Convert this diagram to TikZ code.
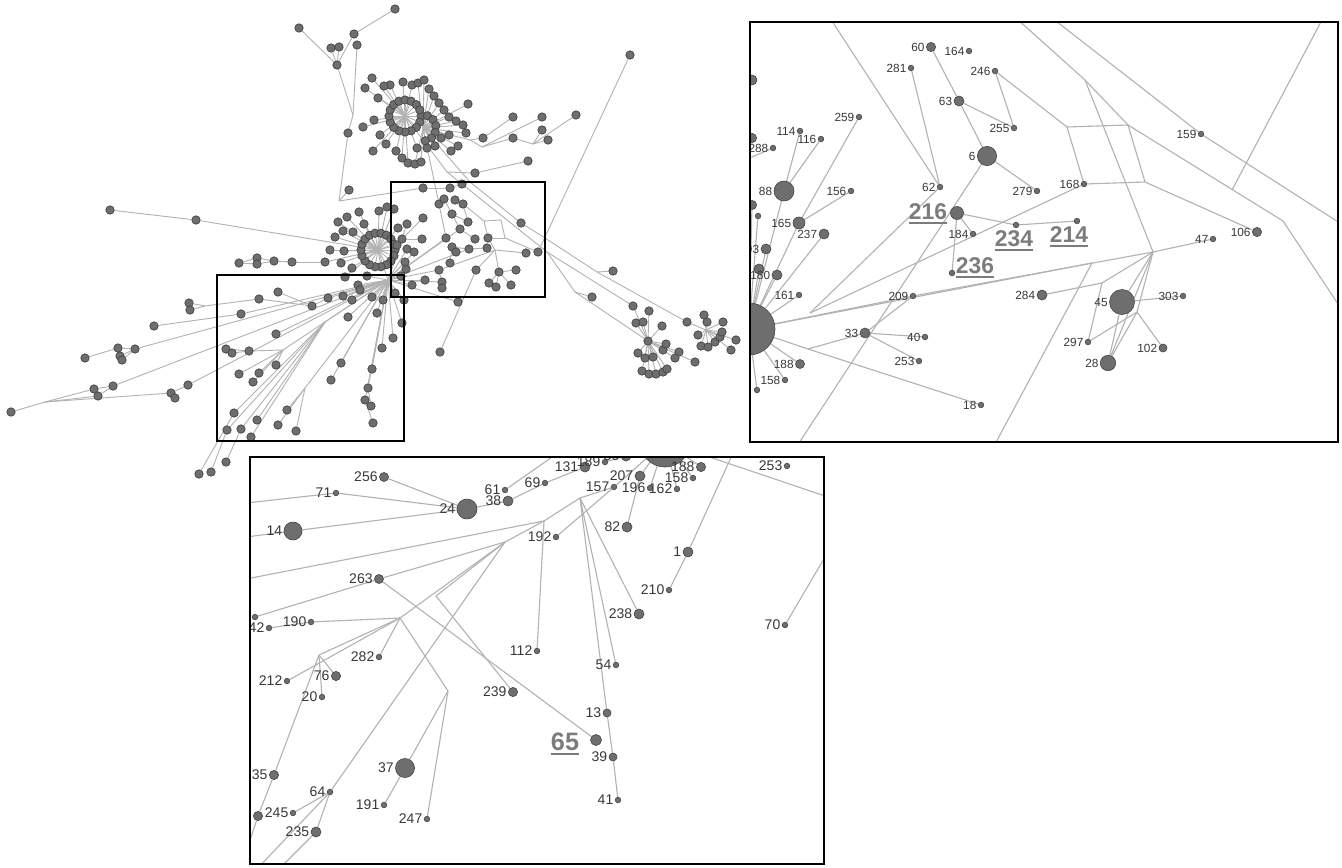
\documentclass[tikz,border=0pt]{standalone}
\usepackage{fontspec}
\setmainfont{Liberation Sans}
\usetikzlibrary{calc}
\pgfdeclarelayer{back}
\pgfdeclarelayer{bg}
\pgfsetlayers{back,bg,main}
\definecolor{nodefill}{HTML}{6E6E6E}
\definecolor{nodeline}{HTML}{444444}
\definecolor{edgegray}{HTML}{B2B2B2}
\definecolor{labgray}{HTML}{383838}
\definecolor{biggray}{HTML}{7C7C7C}
\begin{document}
\begin{tikzpicture}[x=0.5pt,y=-0.5pt,
  onode/.style={circle,fill=nodefill,draw=nodeline,line width=0.35pt,inner sep=0pt,minimum size=4.2pt},
  oedge/.style={draw=edgegray,line width=0.45pt},
  iedge/.style={draw=edgegray,line width=0.55pt},
  vx/.style={circle,fill=nodefill,draw=nodeline,line width=0.3pt,inner sep=0pt,minimum size=#1},
  vx/.default=2.8pt,
  every label/.style={font=\fontsize{5.9}{6}\selectfont,text=labgray,inner sep=0.3pt},
  label distance=0.3pt,
  bignum/.style={font=\bfseries\fontsize{11.4}{12}\selectfont,text=biggray,inner sep=0pt},
  uline/.style={draw=biggray,line width=1.1pt},
  boxframe/.style={draw=black,line width=1.4pt}]
\useasboundingbox (0,0) rectangle (1342,867);
\begin{pgfonlayer}{back}\fill[white] (0,0) rectangle (1342,867);\end{pgfonlayer}

%% ---------------- overview network ----------------
\coordinate (hA) at (405,116);  \coordinate (hB) at (423,128);
\coordinate (hC) at (378,250);  \coordinate (hD) at (388,280);
\coordinate (hR2) at (706,330);
\coordinate (j1) at (353,115);  \coordinate (j2) at (339,201);
\coordinate (jr1) at (470,140); \coordinate (jr2) at (482,147); \coordinate (jr3) at (533,144);
\coordinate (ja1) at (470,182); \coordinate (ja2) at (447,172);
\coordinate (jb1) at (545,238); \coordinate (jb2) at (547,252);
\coordinate (jq) at (597,272);  \coordinate (jc) at (575,292);  \coordinate (jy) at (495,250);
\coordinate (jL) at (205,306);  \coordinate (jM) at (45,402);
\coordinate (jB1) at (325,322); \coordinate (jB2) at (283,350); \coordinate (jB3) at (305,388);
\coordinate (qa) at (484,221);  \coordinate (qb) at (501,220);  \coordinate (qc) at (505,238);

\foreach \n/\x/\y in {
 n1/395/9, n2/299/28, n3/331/48, n4/339/47, n5/354/34, n6/357/45, n7/337/65, n8/348/133,
 n9/349/190, n10/110/210, n11/196/220, n12/630/55,
 r1/483/138, r2/513/117, r3/542/117, r4/513/138, r5/542/130, r6/548/140, r7/576/115,
 r9/528/161, r10/475/173,
 a1/439/204, a2/444/199, a3/455/200, a4/463/204, a5/452/214, a6/468/222, a7/460/229,
 a8/446/238, a9/475/239, a10/488/238, a11/452/247, a12/456/252, a13/469/249, a14/487/248,
 a15/450/263, a16/439/270, a17/476/270, a18/499/272, a19/516/270, a20/489/283, a21/496/287,
 a22/511/285, a23/442/282, a24/442/288, a25/425/280, a26/422/239, a27/423/218, a28/407/224,
 a29/402/239, a30/407/249, a31/414/252, a32/406/269, a33/521/223, a34/526/253, a35/538/252,
 a36/423/188, a37/450/188, a38/462/184,
 l1/239/263, l2/257/258, l3/257/264, l4/274/261, l5/292/262, l6/325/262, l7/189/303,
 l8/190/310, l9/259/299, l10/278/292, l11/312/306, l12/328/298, l13/154/326, l14/241/314,
 l15/85/358, l16/118/348, l17/120/356, l18/122/360, l19/135/349, l20/11/412, l21/94/389,
 l22/98/396, l23/113/386, l24/171/393, l25/175/398, l26/188/385, l27/226/349, l28/232/353,
 l29/249/351, l30/276/334, l31/239/374, l32/259/373, l33/253/382, l34/276/365, l35/234/413,
 l36/227/430, l37/241/429, l38/257/420, l39/251/437, l40/278/425, l41/287/410, l42/296/431,
 l43/199/474, l44/211/472, l45/226/462, l46/331/380, l47/341/363, l48/348/317, l49/377/313,
 l50/382/348, l51/372/369, l52/368/388, l53/365/400, l54/371/406, l55/373/423, l56/402/323,
 l57/393/338,
 q1/613/271, q2/592/297, q3/458/302, q4/440/352, rq/633/306, rr/687/322, hR1/648/341}
 \node[onode] (\n) at (\x,\y) {};

\begin{pgfonlayer}{bg}
\foreach \a/\b in {
 n1/n5, n5/n7, n2/n7, n3/n7, n4/n7, n7/j1, n6/j1, j1/n8, n8/j2, n9/j2, j2/a36, a36/a37,
 a37/a38, n10/n11, n11/hC, n12/a35,
 hB/jr1, jr1/r1, r1/r2, jr1/jr2, jr2/r3, jr2/r4, r4/jr3, jr3/r5, jr3/r6, jr3/r7, r9/r10, r10/ja2,
 hB/ja1, ja1/a33, a33/jb1, jb1/jq, jq/q1, jq/rr, rr/hR2, hA/ja2, ja2/jb2, jb2/rq, rq/hR1,
 jb2/jc, jc/q2, jc/hR1,
 a2/a5, a5/a7, a5/a6, a4/a6, a4/qa, qa/qb, qb/qc, qc/a10, a10/qa, qc/a35, a7/a9, a7/hD,
 a1/a8, a8/hD, a11/a12, a11/a15, a11/a13, a13/a14, a13/hD, a16/hD, a16/jy, jy/a34, jy/a18,
 a18/a19, a18/a20, a18/a21, a18/a22, a23/a24, a23/a16, a23/hD, a27/a29, a26/a29, a29/hD,
 a28/hD, a30/hD, a31/hD, a32/hD, a25/hD, a10/jy, q4/a17, a17/jy, q3/hD, hC/hD, hB/a1,
 l1/l2, l1/l3, l2/l4, l3/l4, l4/l5, l5/l6, l6/hC, l7/jL, l8/jL, jL/l9, l9/l11, l10/l11,
 l11/l12, l12/hD, l13/l14, l14/hD, l15/l16, l16/l19, l17/l19, l18/l19, l19/hD, l20/jM,
 jM/l21, jM/l22, l21/l23, l22/l23, l23/hD, jM/l24, l24/l26, l25/l24, l26/hD, l27/l29,
 l28/l29, l29/jB2, jB2/hD, l30/hD, l31/jB2, l32/jB2, l33/jB2, l34/jB2, jB1/hD, l35/jB1,
 l36/jB1, l37/jB1, l38/jB1, l39/jB1, l43/l35, l44/l36, l45/l37, jB3/hD, l40/jB3, l41/jB3,
 l42/jB3, l46/hD, l47/hD, l48/hD, l49/hD, l50/hD, l51/hD, l52/hD, l53/hD, l54/l52,
 l55/l53, l56/hD, l57/hD}
 \draw[oedge] (\a) -- (\b);
\end{pgfonlayer}

% dense ring clusters with their spokes
\foreach \ang [count=\i] in {0,22.5,...,337.5} {
  \node[onode] (rA\i) at ($(hA)+(\ang:16)$) {};
  \begin{pgfonlayer}{bg}\draw[oedge] (hA) -- (rA\i);\end{pgfonlayer}}
\foreach \ang [count=\i] in {-70,-40,-10,20,50,80} {
  \node[onode] (rB\i) at ($(hB)+(\ang:13)$) {};
  \begin{pgfonlayer}{bg}\draw[oedge] (hB) -- (rB\i);\end{pgfonlayer}}
\foreach \ang [count=\i] in {0,20,...,340} {
  \node[onode] (rC\i) at ($(hC)+(\ang:17)$) {};
  \begin{pgfonlayer}{bg}\draw[oedge] (hC) -- (rC\i);\end{pgfonlayer}}
\foreach \x/\y/\h [count=\i] in {
 372/78/hA, 365/88/hA, 390/85/hA, 403/82/hA, 412/85/hA, 418/83/hB, 424/80/hB, 429/89/hB,
 434/96/hB, 439/103/hB, 444/110/hB, 449/117/hB, 456/121/hB, 463/125/hB, 466/133/hB,
 468/104/hB, 449/135/hB, 458/146/hB, 451/151/hB, 435/146/hB, 427/148/hB, 417/148/hA,
 396/151/hA, 373/151/hA, 386/144/hA, 380/135/hA, 374/120/hA, 378/98/hA, 363/127/hA,
 402/158/hA, 408/163/hA, 415/164/hB, 421/162/hB, 384/86/hA, 441/138/hB} {
  \node[onode] (pA\i) at (\x,\y) {};
  \begin{pgfonlayer}{bg}\draw[oedge] (\h) -- (pA\i);\end{pgfonlayer}}
\foreach \x/\y/\h [count=\i] in {
 338/222/hC, 347/217/hC, 359/212/hC, 379/211/hC, 387/207/hC, 394/209/hC, 364/224/hC,
 398/228/hC, 335/237/hC, 343/231/hC, 353/232/hC, 344/251/hC, 341/263/hC, 345/277/hC,
 352/268/hC, 358/285/hD, 372/297/hD, 343/296/hD, 395/293/hD, 383/300/hD, 352/300/hD,
 405/262/hD, 401/276/hD, 360/290/hD, 367/276/hD, 412/285/hD, 404/300/hD, 330/250/hC,
 397/245/hC} {
  \node[onode] (pC\i) at (\x,\y) {};
  \begin{pgfonlayer}{bg}\draw[oedge] (\h) -- (pC\i);\end{pgfonlayer}}
\foreach \x/\y [count=\i] in {
 649/311, 636/323, 643/322, 662/326, 638/353, 645/358, 653/357, 663/350, 642/371, 649/374,
 656/374, 663/372, 667/369, 666/344, 679/352, 675/358, 695/362} {
  \node[onode] (pR\i) at (\x,\y) {};
  \begin{pgfonlayer}{bg}\draw[oedge] (hR1) -- (pR\i);\end{pgfonlayer}}
\foreach \x/\y [count=\i] in {
 704/315, 707/322, 723/322, 698/335, 701/346, 708/347, 715/342, 720/337, 722/332, 736/340,
 731/350} {
  \node[onode] (pS\i) at (\x,\y) {};
  \begin{pgfonlayer}{bg}\draw[oedge] (hR2) -- (pS\i);\end{pgfonlayer}}

% zoom frames on the overview
\draw[boxframe] (391,182) rectangle (545,297);
\draw[boxframe] (217,275) rectangle (404,441);

%% ---------------- upper right enlargement ----------------
\begin{scope}
\clip (750,22) rectangle (1338,442);
\node[vx=4.6pt,label={left:60}] (t60) at (931,47) {};
\node[vx,label={left:164}] (t164) at (969,51) {};
\node[vx,label={left:281}] (t281) at (911,68) {};
\node[vx,label={left:246}] (t246) at (995,71) {};
\node[vx=5pt,label={left:63}] (t63) at (959,101) {};
\node[vx,label={left:259}] (t259) at (859,117) {};
\node[vx,label={left:255}] (t255) at (1014,128) {};
\node[vx,label={left:114}] (t114) at (800,131) {};
\node[vx,label={left:116}] (t116) at (821,139) {};
\node[vx,label={left:288}] (t288) at (773,148) {};
\node[vx=9.6pt,label={left:6}] (t6) at (987,156) {};
\node[vx=10pt,label={left:88}] (t88) at (784,191) {};
\node[vx,label={left:156}] (t156) at (851,191) {};
\node[vx,label={left:62}] (t62) at (940,187) {};
\node[vx,label={left:279}] (t279) at (1037,191) {};
\node[vx,label={left:168}] (t168) at (1084,184) {};
\node[vx,label={left:159}] (t159) at (1201,134) {};
\node[vx=6.5pt] (t216) at (957,213) {};
\node[vx=6pt,label={left:165}] (t165) at (799,223) {};
\node[vx=5pt,label={left:237}] (t237) at (824,234) {};
\node[vx,label={left:184}] (t184) at (973,234) {};
\node[vx] (t234) at (1016,225) {};
\node[vx] (t214) at (1077,221) {};
\node[vx,label={left:47}] (t47) at (1213,239) {};
\node[vx=4.6pt,label={left:106}] (t106) at (1257,232) {};
\node[vx=5pt,label={left:93}] (t93) at (766,249) {};
\node[vx=5pt] (t269) at (759,269) {};
\node[vx=5pt,label={left:180}] (t180) at (777,275) {};
\node[vx,label={left:161}] (t161) at (799,295) {};
\node[vx,label={left:209}] (t209) at (913,296) {};
\node[vx] (t236) at (952,273) {};
\node[vx=5pt,label={left:284}] (t284) at (1042,295) {};
\node[vx=12.5pt,label={left:45}] (t45) at (1122,302) {};
\node[vx,label={left:303}] (t303) at (1183,296) {};
\node[vx=26pt] (thub) at (749,329) {};
\node[vx=5pt,label={left:33}] (t33) at (865,333) {};
\node[vx,label={left:40}] (t40) at (925,337) {};
\node[vx,label={left:253}] (t253) at (919,361) {};
\node[vx,label={left:297}] (t297) at (1088,342) {};
\node[vx=4pt,label={left:102}] (t102) at (1163,348) {};
\node[vx=7.7pt,label={left:28}] (t28) at (1108,363) {};
\node[vx=4.5pt,label={left:188}] (t188) at (800,364) {};
\node[vx,label={left:158}] (t158) at (785,380) {};
\node[vx] (t390) at (757,390) {};
\node[vx,label={left:18}] (t18) at (981,405) {};
\node[vx=5pt] (tw1) at (752,80) {};
\node[vx=4.6pt] (tw2) at (752,138) {};
\node[vx=4.6pt] (tw3) at (752,205) {};
\node[vx] (tw4) at (758,216) {};
\end{scope}
\coordinate (tc1) at (830,18);   \coordinate (tc2) at (1016,18);  \coordinate (tc3) at (1052,18);
\coordinate (tc4) at (1346,227); \coordinate (tc5) at (1346,316); \coordinate (tc6) at (1323,18);
\coordinate (tc7) at (994,446);  \coordinate (tc8) at (797,446);  \coordinate (tl1) at (745,160);
\coordinate (tq1) at (1067,127); \coordinate (tq2) at (1128,125); \coordinate (tq3) at (1145,182);
\coordinate (tq4) at (1085,80);  \coordinate (tq5) at (1283,221); \coordinate (tq6) at (1232,190);
\coordinate (tJ1) at (1153,252); \coordinate (tJ3) at (1092,263); \coordinate (tJ4) at (1102,283);
\coordinate (tJ5) at (1137,312); \coordinate (tB3) at (808,349);  \coordinate (tB4) at (810,313);
\begin{pgfonlayer}{bg}
\begin{scope}
\clip (750,22) rectangle (1338,442);
\foreach \a/\b in {
 tc1/t62, t281/t62, t60/t63, t63/t6, t63/t255, t246/t255, t246/tq1, tq1/tq2, tq2/tq3,
 tq3/t168, t168/tq1, tc2/tq4, tq4/tq2, tq4/tJ1, tc3/t159, t159/tc4, tq2/tq5, tq5/tc5,
 tc6/tq6, tq3/t106, t168/tB4, t62/tB4, thub/tJ3, t216/t234, t234/t214, t216/t236, t216/t184,
 t6/t279, t6/tc8, thub/t209, t209/tJ1, tJ1/t47, tJ3/tc7, t284/tJ4, tJ4/tJ1, tJ4/t297,
 tJ1/t45, tJ1/t28, t45/t303, t45/t28, t297/tJ5, tJ5/t102, tJ5/t28, tJ5/tJ1,
 tB3/t33, tB3/t18, tB3/thub, t33/t209, t33/t40, t33/t253,
 t237/thub, t165/thub, t88/thub, t114/t88, t116/t88, t259/t165, t156/t165, t288/tl1,
 t93/thub, t269/thub, t180/thub, t161/thub, t188/thub, t158/thub, t390/thub, tw3/thub, tw4/thub}
 \draw[iedge] (\a) -- (\b);
\end{scope}
\end{pgfonlayer}
\node[bignum] (u216) at (928,212) {216};
\node[bignum] (u234) at (1014,239) {234};
\node[bignum] (u214) at (1069,235) {214};
\node[bignum] (u236) at (975,266) {236};
\foreach \u in {u216,u234,u214,u236}
  \draw[uline] ([yshift=-1.3pt]\u.south west) -- ([yshift=-1.3pt]\u.south east);
\draw[boxframe] (750,22) rectangle (1338,442);

%% ---------------- lower enlargement ----------------
\begin{scope}[every label/.style={font=\fontsize{7}{7}\selectfont,text=labgray,inner sep=0.3pt}]
\clip (250,457) rectangle (824,864);
\node[vx=4.5pt,label={left:256}] (b256) at (384,477) {};
\node[vx,label={left:71}] (b71) at (336,493) {};
\node[vx=10pt,label={left:24}] (b24) at (467,509) {};
\node[vx,label={left:61}] (b61) at (505,490) {};
\node[vx=5pt,label={left:38}] (b38) at (508,501) {};
\node[vx,label={left:69}] (b69) at (545,483) {};
\node[vx=9pt,label={left:14}] (b14) at (293,531) {};
\node[vx,label={left:192}] (b192) at (556,537) {};
\node[vx=4.5pt,label={left:263}] (b263) at (379,579) {};
\node[vx,label={left:42}] (b42) at (269,628) {};
\node[vx] (b617) at (255,617) {};
\node[vx,label={left:190}] (b190) at (311,622) {};
\node[vx,label={left:112}] (b112) at (537,651) {};
\node[vx,label={left:282}] (b282) at (379,657) {};
\node[vx,label={left:212}] (b212) at (287,681) {};
\node[vx=4.6pt,label={left:76}] (b76) at (336,676) {};
\node[vx,label={left:20}] (b20) at (322,697) {};
\node[vx=4.6pt,label={left:239}] (b239) at (513,692) {};
\node[vx=9.5pt,label={left:37}] (b37) at (405,768) {};
\node[vx=4.6pt,label={left:35}] (b35) at (274,775) {};
\node[vx,label={left:64}] (b64) at (330,792) {};
\node[vx,label={left:191}] (b191) at (384,805) {};
\node[vx,label={left:247}] (b247) at (427,819) {};
\node[vx,label={left:245}] (b245) at (293,813) {};
\node[vx=4.6pt] (b816) at (258,816) {};
\node[vx=5pt,label={left:235}] (b235) at (316,832) {};
\node[vx,label={left:151}] (b151) at (578,452) {};
\node[vx=5pt,label={left:131}] (b131) at (585,467) {};
\node[vx,label={left:189}] (b189) at (605,462) {};
\node[vx=5pt,label={left:36}] (b36) at (626,456) {};
\node[vx=25pt] (bhub) at (665,442) {};
\node[vx=5pt,label={left:207}] (b207) at (640,476) {};
\node[vx,label={left:157}] (b157) at (614,487) {};
\node[vx,label={left:196}] (b196) at (650,488) {};
\node[vx,label={left:162}] (b162) at (677,489) {};
\node[vx,label={left:158}] (b158) at (693,478) {};
\node[vx=4.6pt,label={left:188}] (b188) at (701,467) {};
\node[vx,label={left:253}] (b253) at (787,466) {};
\node[vx=5pt,label={left:82}] (b82) at (627,527) {};
\node[vx=5pt,label={left:1}] (b1) at (688,552) {};
\node[vx,label={left:210}] (b210) at (669,590) {};
\node[vx=5pt,label={left:238}] (b238) at (639,614) {};
\node[vx,label={left:70}] (b70) at (785,625) {};
\node[vx,label={left:54}] (b54) at (616,665) {};
\node[vx=4pt,label={left:13}] (b13) at (607,713) {};
\node[vx=5.5pt] (b65) at (596,740) {};
\node[vx=4pt,label={left:39}] (b39) at (613,757) {};
\node[vx,label={left:41}] (b41) at (618,800) {};
\end{scope}
\coordinate (bc1) at (246,503);  \coordinate (bc2) at (246,537);  \coordinate (bc4) at (565,448);
\coordinate (bc5) at (246,579);  \coordinate (bc6) at (256,870);  \coordinate (bc7) at (278,870);
\coordinate (bc8) at (246,852);  \coordinate (bc10) at (733,453); \coordinate (bc11) at (828,552);
\coordinate (bc13) at (828,497);
\coordinate (bJ1) at (544,521);  \coordinate (bJ2) at (505,542);  \coordinate (bJ3) at (400,618);
\coordinate (bJ4) at (319,655);  \coordinate (bJ5) at (436,596);  \coordinate (bJ6) at (448,691);
\coordinate (bJ7) at (580,498);
\begin{pgfonlayer}{bg}
\begin{scope}
\clip (250,457) rectangle (824,864);
\foreach \a/\b in {
 b256/b24, b71/b24, b71/bc1, b14/b24, b14/bc2, b24/b38, b38/b69, b69/b131, b61/bc4,
 bc5/bJ1, bJ1/b112, bJ1/bJ7, b192/b157, b617/b263, b263/bJ2, bJ2/bJ1, b263/b65, bJ3/bJ2,
 b190/bJ3, b42/b190, bJ3/b282, b212/bJ3, bJ4/bJ3, bJ4/b76, bJ4/b20, b35/bJ4, b816/b35,
 b816/bc8, bJ3/bJ6, bJ5/bJ2, bJ5/b239, b64/bJ2, b37/bJ6, b247/bJ6, b37/b191, b64/b245,
 b64/b235, b64/bc6, b235/bc7, b207/b82, b207/bhub, b157/bhub, bJ7/b157, bJ7/b238, bJ7/b13,
 b13/b39, b39/b41, bJ7/b54, b1/b210, b1/bc10, b70/bc11, bhub/bc13, b188/bhub, b158/bhub,
 b162/bhub, b196/bhub, b36/bhub, b189/b36}
 \draw[iedge] (\a) -- (\b);
\end{scope}
\end{pgfonlayer}
\node[bignum,font=\bfseries\fontsize{12.6}{13}\selectfont] (u65) at (565,742) {65};
\draw[uline] ([yshift=-1.3pt]u65.south west) -- ([yshift=-1.3pt]u65.south east);
\draw[boxframe] (250,457) rectangle (824,864);
\end{tikzpicture}
\end{document}
